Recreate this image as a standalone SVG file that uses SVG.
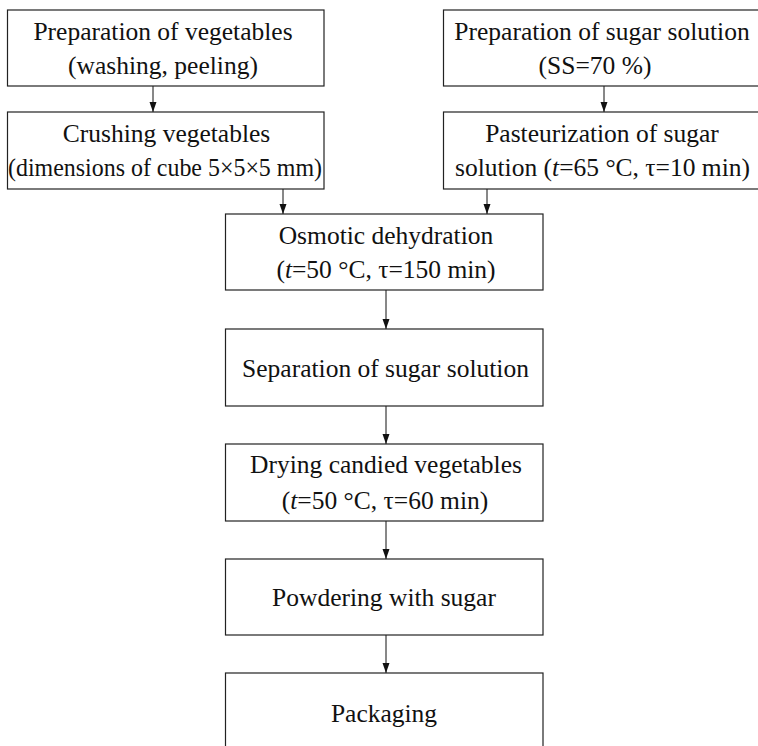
<svg xmlns="http://www.w3.org/2000/svg" width="758" height="746" viewBox="0 0 758 746">
<defs>
<style>
.box{fill:#fff;stroke:#222;stroke-width:1.2}
.t{font-family:"Liberation Serif","Times New Roman",serif;font-size:25.5px;fill:#111;text-anchor:middle}
.i{font-style:italic}
.c{stroke:#111;stroke-width:1;fill:none;marker-end:url(#ah)}
</style>
<marker id="ah" markerUnits="userSpaceOnUse" markerWidth="10" markerHeight="8" refX="10" refY="4" orient="auto">
<path d="M0,0.5 L10,4 L0,7.5 z" fill="#111"/>
</marker>
</defs>
<rect width="758" height="746" fill="#fff"/>
<g id="connectors">
<line class="c" x1="153" y1="86" x2="153" y2="112"/>
<line class="c" x1="604" y1="86" x2="604" y2="112"/>
<line class="c" x1="283" y1="189" x2="283" y2="214"/>
<line class="c" x1="487" y1="189" x2="487" y2="214"/>
<line class="c" x1="386" y1="290" x2="386" y2="329"/>
<line class="c" x1="386" y1="406" x2="386" y2="444"/>
<line class="c" x1="386" y1="521" x2="386" y2="559"/>
<line class="c" x1="386" y1="635" x2="386" y2="673"/>
</g>
<g id="prep-veg">
<rect class="box" x="7.5" y="10" width="316.5" height="76"/>
<text class="t" x="163" y="40">Preparation of vegetables</text>
<text class="t" x="163" y="74">(washing, peeling)</text>
</g>
<g id="prep-sugar">
<rect class="box" x="443.5" y="10" width="320" height="76"/>
<text class="t" x="602" y="40">Preparation of sugar solution</text>
<text class="t" x="595" y="74">(SS=70 %)</text>
</g>
<g id="crushing">
<rect class="box" x="7.5" y="112" width="316.5" height="77"/>
<text class="t" x="166.5" y="142">Crushing vegetables</text>
<text class="t" x="165" y="176" textLength="314" lengthAdjust="spacingAndGlyphs">(dimensions of cube 5×5×5 mm)</text>
</g>
<g id="pasteurization">
<rect class="box" x="443.5" y="112" width="320" height="77"/>
<text class="t" x="602" y="142">Pasteurization of sugar</text>
<text class="t" x="602.5" y="176">solution (<tspan class="i">t</tspan>=65 °C, τ=10 min)</text>
</g>
<g id="osmotic">
<rect class="box" x="225.5" y="214" width="317.5" height="76"/>
<text class="t" x="386" y="244">Osmotic dehydration</text>
<text class="t" x="386" y="278">(<tspan class="i">t</tspan>=50 °C, τ=150 min)</text>
</g>
<g id="separation">
<rect class="box" x="225.5" y="329" width="317.5" height="77"/>
<text class="t" x="385.5" y="377">Separation of sugar solution</text>
</g>
<g id="drying">
<rect class="box" x="225.5" y="444" width="317.5" height="77"/>
<text class="t" x="386" y="473">Drying candied vegetables</text>
<text class="t" x="385" y="509">(<tspan class="i">t</tspan>=50 °C, τ=60 min)</text>
</g>
<g id="powdering">
<rect class="box" x="225.5" y="559" width="317.5" height="76"/>
<text class="t" x="384" y="606">Powdering with sugar</text>
</g>
<g id="packaging">
<rect class="box" x="225.5" y="673" width="317.5" height="80"/>
<text class="t" x="384" y="722">Packaging</text>
</g>
</svg>
